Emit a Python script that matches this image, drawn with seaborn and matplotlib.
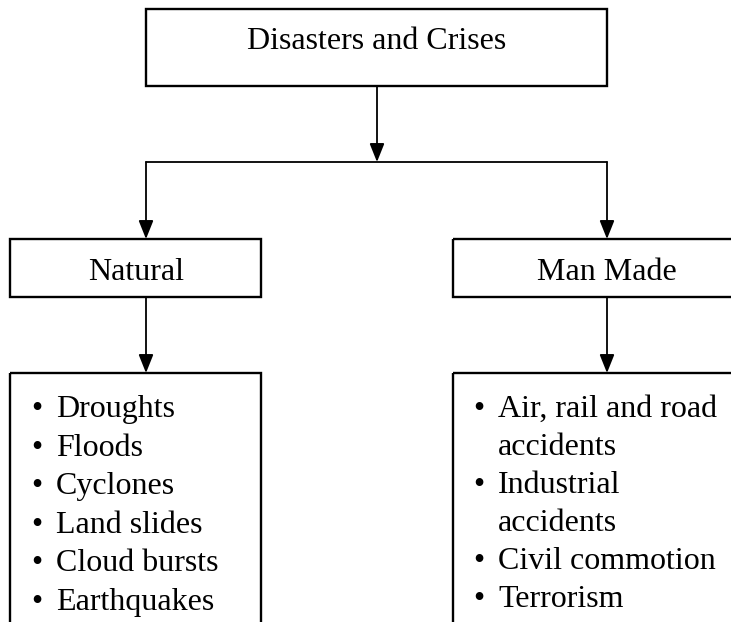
import matplotlib.pyplot as plt
import seaborn as sns
from matplotlib.patches import Rectangle

sns.set_theme(style="white")
plt.rcParams['font.family'] = ['Liberation Serif', 'DejaVu Serif']
plt.rcParams['text.color'] = 'black'

# Chart content
root_label = "Disasters and Crises"
branch_labels = ["Natural", "Man Made"]
natural_items = [["Droughts"], ["Floods"], ["Cyclones"], ["Land slides"],
                 ["Cloud bursts"], ["Earthquakes"]]
man_made_items = [["Air, rail and road", "accidents"], ["Industrial", "accidents"],
                  ["Civil commotion"], ["Terrorism"]]

W, H = 731, 622
fig = plt.figure(figsize=(W / 100, H / 100), dpi=100)
ax = fig.add_axes([0, 0, 1, 1])
ax.set_xlim(0, W)
ax.set_ylim(H, 0)
ax.axis('off')

box_lw = 1.7
line_lw = 1.3
fs = 23


def box(x0, y0, x1, y1):
    ax.add_patch(Rectangle((x0, y0), x1 - x0, y1 - y0, fill=False,
                           edgecolor='black', lw=box_lw, clip_on=True))


def arrow(x, y0, y1):
    ax.annotate("", xy=(x, y1), xytext=(x, y0),
                arrowprops=dict(arrowstyle='-|>,head_length=0.75,head_width=0.3',
                                mutation_scale=15, lw=line_lw, color='black',
                                shrinkA=0, shrinkB=0))


# top box
box(146, 9, 607, 86)
ax.text(377, 49, root_label, ha='center', va='baseline', fontsize=fs)
arrow(377, 86, 162)
ax.plot([146, 607], [162, 162], color='black', lw=line_lw)

# branch boxes
branch_x = [146, 607]
branch_boxes = [(10, 261), (453, 770)]
text_cx = [136, 607]
for bx, (x0, x1), cx, lab in zip(branch_x, branch_boxes, text_cx, branch_labels):
    arrow(bx, 162, 239)
    box(x0, 239, x1, 297)
    ax.text(cx, 280, lab, ha='center', va='baseline', fontsize=fs)
    arrow(bx, 297, 373)
    box(x0, 373, x1, 660)

# bullet lists
lists = [(natural_items, 37, 56, 38.6), (man_made_items, 479, 498, 38.0)]
for items, bullet_x, text_x, step in lists:
    y = 417
    for item in items:
        ax.text(bullet_x, y, "\u2022", ha='center', va='baseline', fontsize=fs)
        for line in item:
            ax.text(text_x, y, line, ha='left', va='baseline', fontsize=fs)
            y += step

fig.savefig("out.png", dpi=100)
plt.close(fig)
